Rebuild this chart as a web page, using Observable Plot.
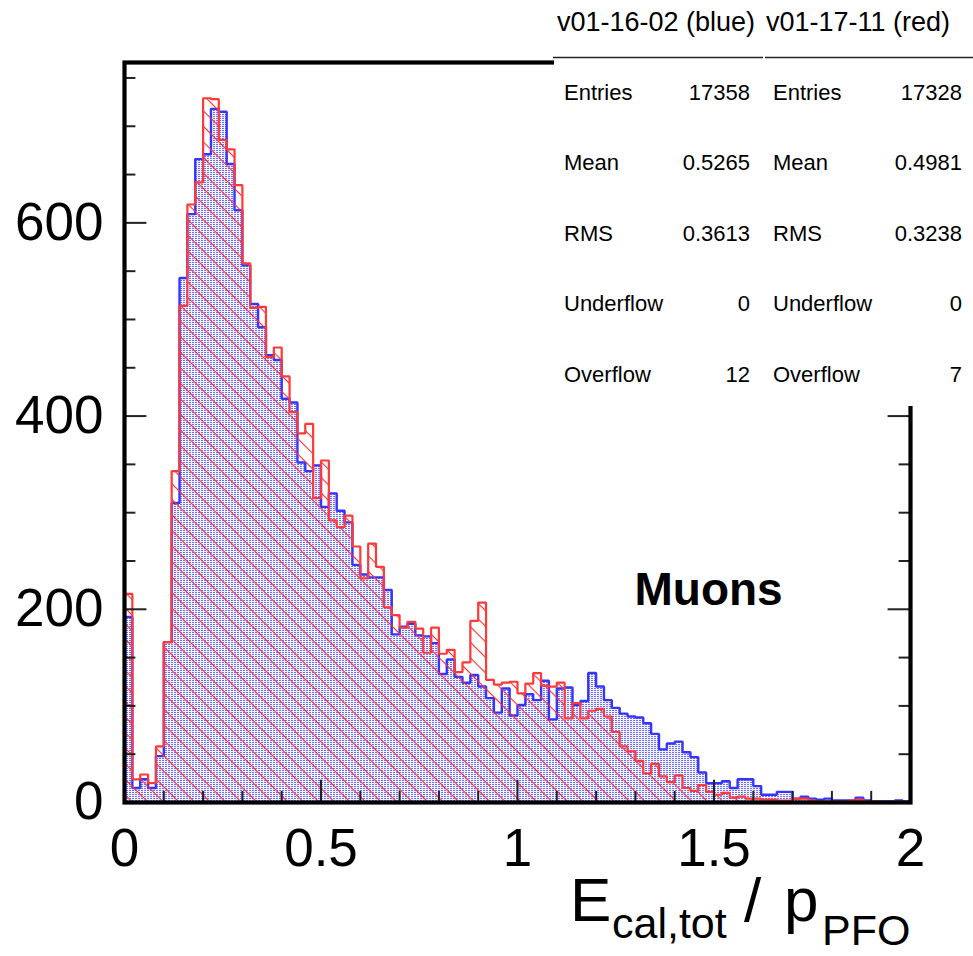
<!DOCTYPE html>
<html>
<head>
<meta charset="utf-8">
<script src="https://cdn.jsdelivr.net/npm/d3@7"></script>
<script src="https://cdn.jsdelivr.net/npm/@observablehq/plot@0.6"></script>
<style>
  body { margin: 0; background: #fff; }
  #chart svg { display: block; }
</style>
</head>
<body>
<div id="chart"></div>
<script>
// ---- data (100 bins from 0 to 2, width 0.02) ----
const xMin = 0, xMax = 2;
const blueCounts = [
  192, 15, 24, 15, 48, 166, 310, 543, 609, 666,
  671, 718, 715, 661, 613, 556, 516, 492, 463, 458,
  418, 414, 352, 343, 349, 306, 320, 302, 290, 246,
  236, 233, 233, 220, 174, 182, 185, 173, 172, 165,
  133, 148, 130, 124, 132, 120, 108, 93, 118, 90,
  101, 112, 106, 126, 86, 118, 119, 101, 105, 134,
  120, 106, 98, 92, 89, 88, 82, 71, 55, 61,
  63, 52, 47, 31, 20, 20, 22, 15, 24, 24,
  17, 8, 8, 11, 11, 4, 6, 4, 3, 4,
  2, 2, 2, 5, 2, 1, 1, 1, 2, 1
];
const redCounts = [
  216, 24, 29, 20, 58, 166, 343, 514, 619, 642,
  729, 728, 686, 676, 639, 558, 512, 513, 461, 471,
  441, 404, 382, 392, 315, 354, 292, 285, 297, 265,
  232, 268, 244, 202, 194, 181, 187, 180, 155, 181,
  154, 158, 135, 145, 188, 207, 127, 122, 124, 125,
  113, 123, 134, 121, 120, 124, 87, 103, 87, 95,
  97, 89, 73, 58, 53, 43, 30, 40, 27, 21,
  28, 15, 12, 18, 11, 8, 10, 5, 6, 4,
  4, 3, 3, 2, 2, 4, 4, 2, 1, 1,
  1, 1, 2, 3, 1, 1, 1, 0, 1, 0
];
const yTicksMajor = [0, 200, 400, 600];
const yTicksMinor = [50, 100, 150, 250, 300, 350, 450, 500, 550, 650, 700, 750];
const xTicksMajor = [0, 0.5, 1, 1.5, 2];
const xTickLabels = ["0", "0.5", "1", "1.5", "2"];
const xTicksMinor = [0.1, 0.2, 0.3, 0.4, 0.6, 0.7, 0.8, 0.9, 1.1, 1.2, 1.3, 1.4, 1.6, 1.7, 1.8, 1.9];
const statLabels = ["Entries", "Mean", "RMS", "Underflow", "Overflow"];
const blueStats = ["17358", "0.5265", "0.3613", "0", "12"];
const redStats = ["17328", "0.4981", "0.3238", "0", "7"];
const blueTitle = "v01-16-02 (blue)";
const redTitle = "v01-17-11 (red)";
const annotation = "Muons";

// ---- build step outlines from the bin counts ----
function steps(counts) {
  const w = (xMax - xMin) / counts.length;
  const pts = [{x: xMin, y: 0}];
  counts.forEach((c, i) => {
    pts.push({x: xMin + i * w, y: c}, {x: xMin + (i + 1) * w, y: c});
  });
  pts.push({x: xMax, y: 0});
  return pts;
}
const bluePts = steps(blueCounts);
const redPts = steps(redCounts);

const yMax = 766;
// tick lengths expressed in data units of each scale
const xMajLen = 0.057, xMinLen = 0.029;   // horizontal ticks on y axes
const yMajLen = 23, yMinLen = 11.5;       // vertical ticks on x axis

const font = "'Liberation Sans', Arial, Helvetica, sans-serif";

const chart = Plot.plot({
  width: 973,
  height: 956,
  marginLeft: 124,
  marginRight: 63,
  marginTop: 62,
  marginBottom: 154,
  x: {domain: [xMin, xMax], axis: null},
  y: {domain: [0, yMax], axis: null},
  style: {fontFamily: font, background: "white", overflow: "visible"},
  marks: [
    Plot.area(bluePts, {x1: "x", y1: 0, y2: "y", fill: "url(#blueDots)"}),
    Plot.line(bluePts, {x: "x", y: "y", stroke: "#3535ff", strokeWidth: 2.4, strokeLinejoin: "miter"}),
    Plot.area(redPts, {x1: "x", y1: 0, y2: "y", fill: "url(#redHatch)"}),
    Plot.line(redPts, {x: "x", y: "y", stroke: "#ff3838", strokeWidth: 2.2, strokeLinejoin: "miter"}),
    // left axis ticks
    Plot.ruleY(yTicksMajor, {y: d => d, x1: xMin, x2: xMin + xMajLen, stroke: "#222", strokeWidth: 2}),
    Plot.ruleY(yTicksMinor, {y: d => d, x1: xMin, x2: xMin + xMinLen, stroke: "#222", strokeWidth: 2}),
    // right axis ticks
    Plot.ruleY(yTicksMajor, {y: d => d, x1: xMax - xMajLen, x2: xMax, stroke: "#222", strokeWidth: 2}),
    Plot.ruleY(yTicksMinor, {y: d => d, x1: xMax - xMinLen, x2: xMax, stroke: "#222", strokeWidth: 2}),
    // bottom axis ticks
    Plot.ruleX(xTicksMajor, {x: d => d, y1: 0, y2: yMajLen, stroke: "#222", strokeWidth: 2}),
    Plot.ruleX(xTicksMinor, {x: d => d, y1: 0, y2: yMinLen, stroke: "#222", strokeWidth: 2}),
    Plot.frame({stroke: "black", strokeWidth: 4.2}),
    // tick labels
    Plot.text(yTicksMajor, {x: xMin, y: d => d, text: d => String(d), textAnchor: "end", dx: -21, fontSize: 53, fill: "black"}),
    Plot.text(xTicksMajor, {x: d => d, y: 0, text: (d, i) => xTickLabels[i], dy: 47, fontSize: 53, fill: "black"}),
    // annotation
    Plot.text([annotation], {frameAnchor: "top-left", textAnchor: "start", lineAnchor: "middle",
      dx: 634 - 124, dy: 590 - 62, text: d => d, fontSize: 46, fontWeight: "bold", fill: "black"})
  ]
});

document.getElementById("chart").appendChild(chart);

// ---- patterns ----
const svg = d3.select(chart);
const defs = svg.insert("defs", ":first-child");
const dots = defs.append("pattern")
  .attr("id", "blueDots").attr("patternUnits", "userSpaceOnUse")
  .attr("width", 3).attr("height", 2);
dots.append("rect").attr("width", 3).attr("height", 2).attr("fill", "#f0f0ff");
dots.append("rect").attr("x", 0).attr("y", 0).attr("width", 2).attr("height", 1).attr("fill", "#6e6eff");
dots.append("rect").attr("x", 2).attr("y", 0).attr("width", 1).attr("height", 1).attr("fill", "#ffffff");
const hatch = defs.append("pattern")
  .attr("id", "redHatch").attr("patternUnits", "userSpaceOnUse")
  .attr("width", 11).attr("height", 11)
  .attr("patternTransform", "rotate(45)");
hatch.append("rect").attr("x", 0).attr("y", 0).attr("width", 11).attr("height", 1.1).attr("fill", "#ff3030");

// ---- x-axis title ----
const title = svg.append("text").attr("font-family", font).attr("fill", "black").attr("text-anchor", "start");
title.append("tspan").attr("x", 570).attr("y", 921).attr("font-size", 62).text("E");
title.append("tspan").attr("x", 612).attr("y", 938).attr("font-size", 43).text("cal,tot");
title.append("tspan").attr("x", 744).attr("y", 921).attr("font-size", 62).text("/");
title.append("tspan").attr("x", 784).attr("y", 921).attr("font-size", 62).text("p");
title.append("tspan").attr("x", 822).attr("y", 945).attr("font-size", 43).text("PFO");

// ---- statistics boxes ----
const stats = svg.append("g").attr("font-family", font).attr("fill", "black").attr("text-anchor", "start");
stats.append("rect").attr("x", 554).attr("y", 0).attr("width", 419).attr("height", 406).attr("fill", "white");
const boxes = [
  {title: blueTitle, values: blueStats, x0: 553, x1: 763, tx: 557, lx: 564, vx: 750},
  {title: redTitle, values: redStats, x0: 765, x1: 973, tx: 766, lx: 773, vx: 962}
];
boxes.forEach(b => {
  stats.append("text").attr("x", b.tx).attr("y", 31).attr("font-size", 27).text(b.title);
  stats.append("line").attr("x1", b.x0).attr("x2", b.x1).attr("y1", 57.5).attr("y2", 57.5)
    .attr("stroke", "#222").attr("stroke-width", 1.5);
  statLabels.forEach((lab, i) => {
    const y = 100 + 70.4 * i;
    stats.append("text").attr("x", b.lx).attr("y", y).attr("font-size", 22).text(lab);
    stats.append("text").attr("x", b.vx).attr("y", y).attr("font-size", 22).attr("text-anchor", "end").text(b.values[i]);
  });
});
</script>
</body>
</html>
